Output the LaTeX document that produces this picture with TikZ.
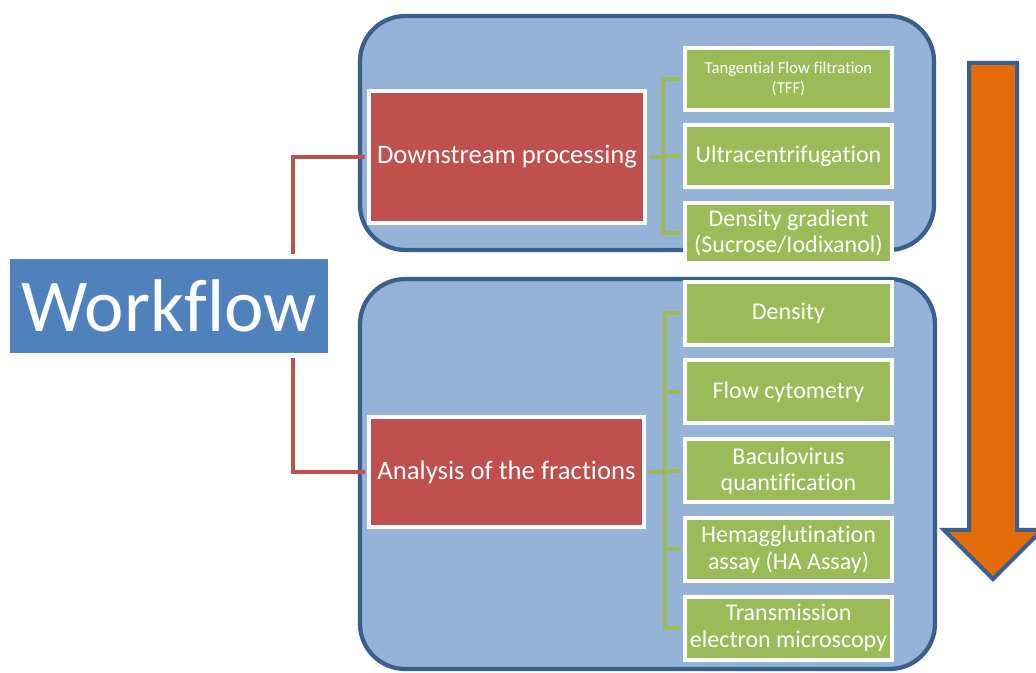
\documentclass[tikz,border=0pt]{standalone}
\usepackage{fontspec}
\setmainfont{Carlito}[Ligatures=NoCommon]
\definecolor{panelfill}{HTML}{95B3D7}
\definecolor{paneledge}{HTML}{3A5F8C}
\definecolor{redbox}{HTML}{C0504D}
\definecolor{greenbox}{HTML}{9BBB59}
\definecolor{wfblue}{HTML}{4F81BD}
\definecolor{orangearrow}{HTML}{E36C09}
\tikzset{
  panel/.style={draw=paneledge, fill=panelfill, line width=3.2pt, rounded corners=34pt},
  redstep/.style={rectangle, draw=white, fill=redbox, line width=3pt, inner sep=0pt, text=white, align=center, font=\fontsize{20}{24}\selectfont},
  greenstep/.style={rectangle, draw=white, fill=greenbox, line width=3pt, inner sep=0pt, text=white, align=center, minimum width=207*0.75pt, font=\fontsize{18}{20}\selectfont},
  redlink/.style={draw=redbox, line width=3pt},
  greenlink/.style={draw=greenbox, line width=3pt},
}
\begin{document}
\begin{tikzpicture}[x=0.75pt,y=-0.75pt]
\clip (0,0) rectangle (1036,673);
\fill[white] (0,0) rectangle (1036,673);
% panels
\draw[panel] (360,16) rectangle (934,250);
\draw[panel] (360,279) rectangle (935,669);
% workflow
\node[rectangle, fill=wfblue, inner sep=0pt, minimum width=318*0.75pt, minimum height=94*0.75pt, text=white, font=\fontsize{56}{60}\selectfont] (wf) at (169,306) {Workflow};
% red nodes
\node[redstep, minimum width=276*0.75pt, minimum height=132*0.75pt] (ds) at (507,157) {Downstream processing};
\node[redstep, minimum width=275*0.75pt, minimum height=110*0.75pt] (an) at (506.5,472) {Analysis of the fractions};
% green nodes top
\node[greenstep, minimum height=62*0.75pt, font=\fontsize{12.5}{15}\selectfont] (g1) at (788.5,79) {Tangential Flow filtration\\(TFF)};
\node[greenstep, minimum height=62*0.75pt] (g2) at (788.5,156.5) {Ultracentrifugation};
\node[greenstep, minimum height=60*0.75pt] (g3) at (788.5,233) {Density gradient\\(Sucrose/Iodixanol)};
% green nodes bottom
\node[greenstep, minimum height=63*0.75pt] (h1) at (788.5,313.5) {Density};
\node[greenstep, minimum height=63*0.75pt] (h2) at (788.5,392) {Flow cytometry};
\node[greenstep, minimum height=63*0.75pt] (h3) at (788.5,471) {Baculovirus\\quantification};
\node[greenstep, minimum height=63*0.75pt] (h4) at (788.5,549.5) {Hemagglutination\\assay (HA Assay)};
\node[greenstep, minimum height=63*0.75pt] (h5) at (788.5,628) {Transmission\\electron microscopy};
% red connectors
\coordinate (rt) at (293,254);
\coordinate (rb) at (293,358);
\draw[redlink] (rt) -- (rt |- ds.west) -- ([xshift=-1.5pt]ds.west);
\draw[redlink] (rb) -- (rb |- an.west) -- ([xshift=-1.5pt]an.west);
% green connectors top
\coordinate (gx) at (663,0);
\draw[greenlink] ([xshift=1.5pt]ds.east) -- (gx |- ds.east);
\draw[greenlink, line join=miter] ([xshift=-1.5pt]g1.west) -- (gx |- g1.west) -- (gx |- g3.west) -- ([xshift=-1.5pt]g3.west);
\draw[greenlink] (gx |- g2.west) -- ([xshift=-1.5pt]g2.west);
% green connectors bottom
\coordinate (hx) at (665,0);
\draw[greenlink] ([xshift=1.5pt]an.east) -- (hx |- an.east);
\draw[greenlink, line join=miter] ([xshift=-1.5pt]h1.west) -- (hx |- h1.west) -- (hx |- h5.west) -- ([xshift=-1.5pt]h5.west);
\draw[greenlink] (hx |- h2.west) -- ([xshift=-1.5pt]h2.west);
\draw[greenlink] (hx |- h3.west) -- ([xshift=-1.5pt]h3.west);
\draw[greenlink] (hx |- h4.west) -- ([xshift=-1.5pt]h4.west);
% orange arrow
\draw[draw=paneledge, fill=orangearrow, line width=3pt, line join=miter]
  (969,63) -- (1017,63) -- (1017,530) -- (1042,530) -- (993,579) -- (944,530) -- (969,530) -- cycle;
\end{tikzpicture}
\end{document}
